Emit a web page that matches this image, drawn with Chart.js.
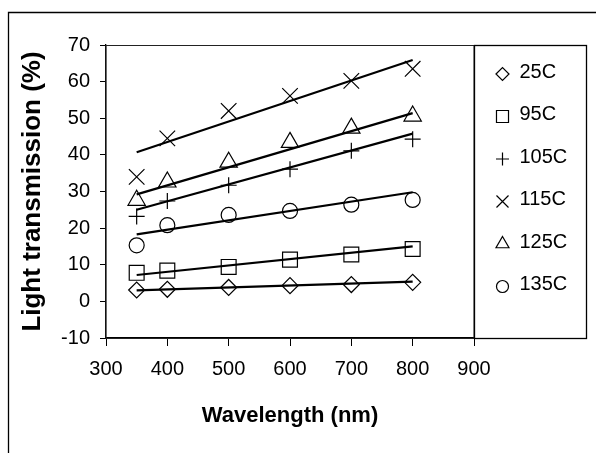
<!DOCTYPE html>
<html lang="en">
<head>
    <meta charset="UTF-8">
    <title>Light transmission vs wavelength</title>
    <script src="https://cdn.jsdelivr.net/npm/chart.js"></script>
    <style>
        html, body { margin: 0; padding: 0; background: #fff; overflow: hidden; }
        canvas { display: block; }
    </style>
</head>
<body>
    <canvas id="chart" width="596" height="453"></canvas>

    <script>
        // wavelengths (nm)
        const wavelengths = [350, 400, 500, 600, 700, 800];
        const seriesNames = ['25C', '95C', '105C', '115C', '125C', '135C'];
        // light transmission (%) per temperature
        const t25 = [3.1, 3.3, 3.8, 4.3, 4.6, 5.2];
        const t95 = [7.8, 8.4, 9.4, 11.4, 12.8, 14.3];
        const t105 = [23.2, 27.4, 31.7, 36.1, 41.1, 44.3];
        const t115 = [34.0, 44.5, 52.0, 56.1, 60.2, 63.5];
        const t125 = [27.6, 32.6, 38.0, 43.4, 47.3, 50.6];
        const t135 = [15.3, 20.8, 23.6, 24.7, 26.4, 27.7];
        // trend line ends (at 350 and 800 nm)
        const trendX = [350, 800];
        const fit25 = [3.0, 5.4];
        const fit95 = [7.2, 15.0];
        const fit105 = [25.0, 45.8];
        const fit115 = [40.7, 65.9];
        const fit125 = [29.2, 51.4];
        const fit135 = [18.3, 29.8];
        // axis ticks
        const xTicks = [300, 400, 500, 600, 700, 800, 900];
        const yTicks = [-10, 0, 10, 20, 30, 40, 50, 60, 70];

        const values = [t25, t95, t105, t115, t125, t135];
        const fits = [fit25, fit95, fit105, fit115, fit125, fit135];
        const markers = ['rectRot', 'rect', 'cross', 'crossRot', 'triangle', 'circle'];
        const markerSize = [8, 10.5, 8, 11, 10, 7.5];
        const legendSize = [6.5, 8.5, 6.5, 8.5, 7.5, 6];

        const toPoints = (xs, ys) => xs.map((x, i) => ({ x: x, y: ys[i] }));

        const datasets = [];
        values.forEach((v, i) => {
            datasets.push({
                type: 'scatter',
                label: seriesNames[i],
                data: toPoints(wavelengths, v),
                pointStyle: markers[i],
                pointRadius: markerSize[i],
                pointBorderWidth: 1.2,
                pointBorderColor: '#000',
                pointBackgroundColor: 'rgba(0,0,0,0)',
                showLine: false
            });
        });
        fits.forEach((f, i) => {
            datasets.push({
                type: 'line',
                label: 'fit ' + seriesNames[i],
                data: toPoints(trendX, f),
                borderColor: '#000',
                borderWidth: 2.2,
                pointRadius: 0,
                fill: false
            });
        });

        // frame, plot border and legend box
        const framePlugin = {
            id: 'frame',
            afterDraw(chart) {
                const ctx = chart.ctx;
                const a = chart.chartArea;
                ctx.save();
                ctx.strokeStyle = '#000';
                ctx.lineWidth = 1.3;
                ctx.beginPath();
                ctx.moveTo(8.5, 453);
                ctx.lineTo(8.5, 12.5);
                ctx.lineTo(596, 12.5);
                ctx.stroke();

                ctx.lineWidth = 1;
                ctx.strokeStyle = '#222';
                ctx.strokeRect(a.left, a.top + 0.5, a.right - a.left, a.bottom - a.top);

                // legend
                const lx = a.right + 0.5, ly = a.top + 0.5, lw = 112, lh = a.bottom - a.top;
                ctx.strokeStyle = '#000';
                ctx.lineWidth = 1.3;
                ctx.strokeRect(lx, ly, lw, lh);
                ctx.font = '20px "Liberation Sans", Arial, sans-serif';
                ctx.textBaseline = 'middle';
                ctx.textAlign = 'left';
                seriesNames.forEach((name, i) => {
                    const cy = a.top + 28 + i * 42.5;
                    ctx.lineWidth = 1.2;
                    ctx.strokeStyle = '#000';
                    ctx.fillStyle = 'rgba(0,0,0,0)';
                    Chart.helpers.drawPoint(ctx, {
                        pointStyle: markers[i],
                        radius: legendSize[i],
                        rotation: 0,
                        borderWidth: 1.2
                    }, lx + 28, cy + 1);
                    ctx.fillStyle = '#000';
                    ctx.fillText(name, lx + 45, cy - 1);
                });
                ctx.restore();
            }
        };

        new Chart(document.getElementById('chart'), {
            data: { datasets: datasets },
            options: {
                responsive: false,
                animation: false,
                layout: { padding: { left: 0, top: 45, right: 122, bottom: 15 } },
                plugins: {
                    legend: { display: false },
                    tooltip: { enabled: false }
                },
                scales: {
                    x: {
                        type: 'linear',
                        min: 300,
                        max: 900,
                        afterFit: (s) => { s.height = 100; },
                        afterBuildTicks: (s) => { s.ticks = xTicks.map(v => ({ value: v })); },
                        grid: { display: true, drawOnChartArea: false, tickLength: 8, color: '#000' },
                        border: { color: '#000', width: 1.3 },
                        ticks: {
                            color: '#000',
                            padding: 11,
                            maxRotation: 0,
                            font: { family: '"Liberation Sans", Arial, sans-serif', size: 20 }
                        },
                        title: {
                            display: true,
                            text: 'Wavelength (nm)',
                            color: '#000',
                            padding: { top: 0, bottom: 9 },
                            font: { family: '"Liberation Sans", Arial, sans-serif', size: 22, weight: 'bold' }
                        }
                    },
                    y: {
                        type: 'linear',
                        min: -10,
                        max: 70,
                        afterFit: (s) => { s.width = 106; },
                        afterBuildTicks: (s) => { s.ticks = yTicks.map(v => ({ value: v })); },
                        grid: { display: true, drawOnChartArea: false, tickLength: 6, color: '#000' },
                        border: { color: '#000', width: 1.3 },
                        ticks: {
                            color: '#000',
                            padding: 10,
                            font: { family: '"Liberation Sans", Arial, sans-serif', size: 20 }
                        },
                        title: {
                            display: true,
                            text: 'Light transmission (%)',
                            color: '#000',
                            padding: { top: 17, bottom: 0 },
                            font: { family: '"Liberation Sans", Arial, sans-serif', size: 26, weight: 'bold' }
                        }
                    }
                }
            },
            plugins: [framePlugin]
        });
    </script>
</body>
</html>
